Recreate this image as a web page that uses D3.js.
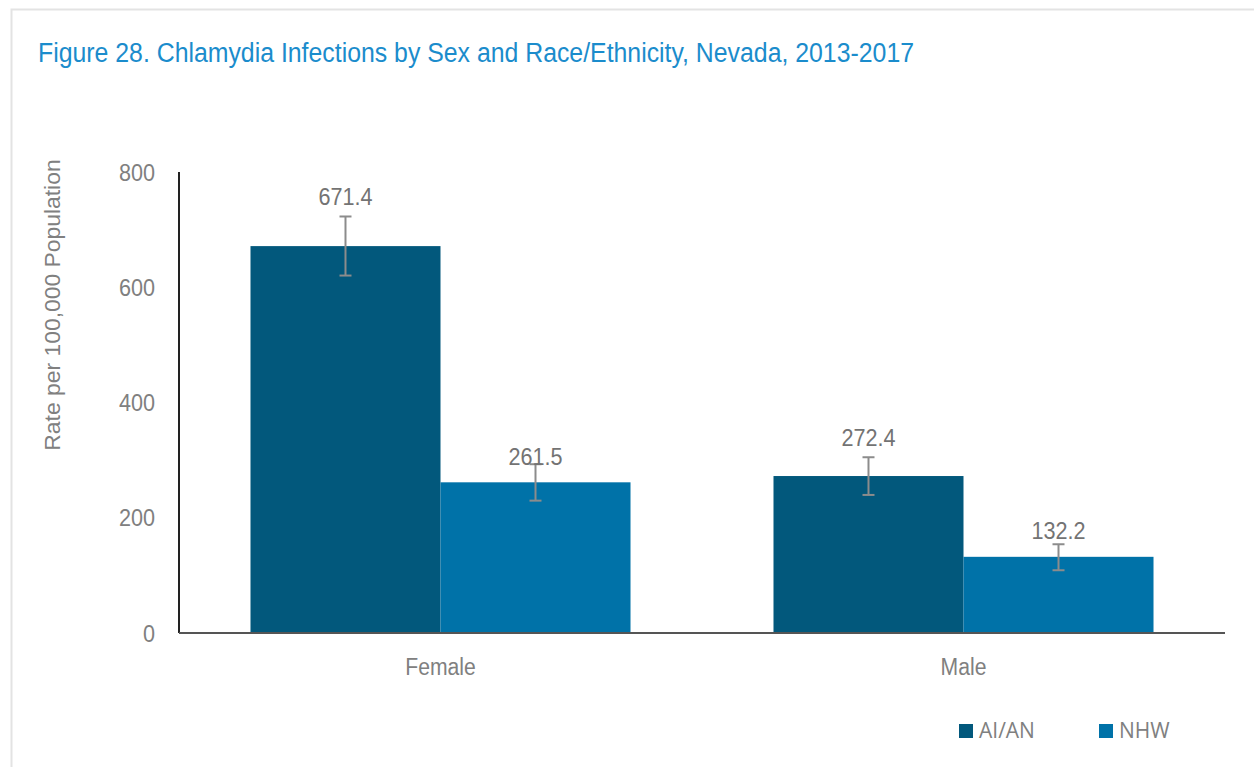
<!DOCTYPE html>
<html>
<head>
<meta charset="utf-8">
<script src="https://cdn.jsdelivr.net/npm/d3@7"></script>
<style>
  body { margin: 0; background: #fff; }
  svg { display: block; }
</style>
</head>
<body>
<svg id="chart" width="1254" height="767"></svg>
<script>
// chart data
const sexes = ['Female', 'Male']
const groups = ['AI/AN', 'NHW']
const rateAIAN = [671.4, 272.4]
const rateNHW = [261.5, 132.2]
// 95% confidence limits
const lowAIAN = [620.3, 239.6]
const highAIAN = [722.8, 305.0]
const lowNHW = [229.7, 108.9]
const highNHW = [292.9, 154.0]
const yTicks = [0, 200, 400, 600, 800]

const colors = { 'AI/AN': '#02587c', 'NHW': '#0072a8' }
const sans = '"Liberation Sans", Arial, sans-serif'
const grey = '#808080'

const rows = []
sexes.forEach((s, i) => {
  rows.push({ sex: s, group: 'AI/AN', value: rateAIAN[i], lo: lowAIAN[i], hi: highAIAN[i] })
  rows.push({ sex: s, group: 'NHW', value: rateNHW[i], lo: lowNHW[i], hi: highNHW[i] })
})

// no Arial Narrow here, so squeeze the glyphs to get the condensed look
const squeeze = (sel, k) => {
  sel.each(function () {
    const w = this.getComputedTextLength()
    d3.select(this).attr('textLength', w * k).attr('lengthAdjust', 'spacingAndGlyphs')
  })
}

const svg = d3.select('#chart')

// light frame around the figure
svg.append('rect')
  .attr('x', 11.5).attr('y', 9.5)
  .attr('width', 1260).attr('height', 780)
  .attr('fill', 'none')
  .attr('stroke', '#e3e3e3')
  .attr('stroke-width', 2)

// title
svg.append('text')
  .attr('x', 38).attr('y', 62)
  .attr('fill', '#1b8ccc')
  .attr('font-family', sans)
  .attr('font-size', 27)
  .attr('textLength', 876)
  .attr('lengthAdjust', 'spacingAndGlyphs')
  .text('Figure 28. Chlamydia Infections by Sex and Race/Ethnicity, Nevada, 2013-2017')

const plot = { left: 179, right: 1225, top: 172, bottom: 633 }

const x = d3.scaleBand()
  .domain(sexes)
  .range([plot.left, plot.right])
  .paddingInner(0.2734)
  .paddingOuter(0.1367)

const xs = d3.scaleBand()
  .domain(groups)
  .range([0, x.bandwidth()])

const y = d3.scaleLinear()
  .domain([0, 800])
  .range([plot.bottom, plot.top])

// y tick labels
svg.append('g')
  .selectAll('text')
  .data(yTicks)
  .join('text')
  .attr('x', 155)
  .attr('y', d => y(d))
  .attr('dy', '0.36em')
  .attr('text-anchor', 'end')
  .attr('fill', grey)
  .attr('font-family', sans)
  .attr('font-size', 24)
  .text(d => d)
  .call(squeeze, 0.9)

// axis title
svg.append('text')
  .attr('transform', 'translate(60,305) rotate(-90)')
  .attr('text-anchor', 'middle')
  .attr('fill', grey)
  .attr('font-family', sans)
  .attr('font-size', 22)
  .text('Rate per 100,000 Population')
  .call(squeeze, 1.04)

// bars
svg.append('g')
  .selectAll('rect')
  .data(rows)
  .join('rect')
  .attr('x', d => x(d.sex) + xs(d.group))
  .attr('y', d => y(d.value))
  .attr('width', xs.bandwidth())
  .attr('height', d => y(0) - y(d.value))
  .attr('fill', d => colors[d.group])

// error bars
const err = svg.append('g')
  .attr('stroke', '#8c8c8c')
  .attr('stroke-width', 2)
rows.forEach(d => {
  const cx = x(d.sex) + xs(d.group) + xs.bandwidth() / 2
  err.append('line').attr('x1', cx).attr('x2', cx).attr('y1', y(d.hi)).attr('y2', y(d.lo))
  err.append('line').attr('x1', cx - 6).attr('x2', cx + 6).attr('y1', y(d.hi)).attr('y2', y(d.hi))
  err.append('line').attr('x1', cx - 6).attr('x2', cx + 6).attr('y1', y(d.lo)).attr('y2', y(d.lo))
})

// value labels (Excel had them nudged by hand)
const nudge = { 'Female AI/AN': 41, 'Female NHW': 17, 'Male AI/AN': 30, 'Male NHW': 18 }
svg.append('g')
  .selectAll('text')
  .data(rows)
  .join('text')
  .attr('x', d => x(d.sex) + xs(d.group) + xs.bandwidth() / 2)
  .attr('y', d => y(d.value) - nudge[d.sex + ' ' + d.group])
  .attr('text-anchor', 'middle')
  .attr('fill', '#737373')
  .attr('font-family', sans)
  .attr('font-size', 24)
  .text(d => d.value.toFixed(1))
  .call(squeeze, 0.9)

// axes lines
svg.append('line')
  .attr('x1', plot.left).attr('x2', plot.left)
  .attr('y1', plot.top).attr('y2', plot.bottom)
  .attr('stroke', '#222').attr('stroke-width', 2)
svg.append('line')
  .attr('x1', plot.left).attr('x2', plot.right)
  .attr('y1', plot.bottom).attr('y2', plot.bottom)
  .attr('stroke', '#555').attr('stroke-width', 2)

// category labels
svg.append('g')
  .selectAll('text')
  .data(sexes)
  .join('text')
  .attr('x', d => x(d) + x.bandwidth() / 2)
  .attr('y', 675)
  .attr('text-anchor', 'middle')
  .attr('fill', grey)
  .attr('font-family', sans)
  .attr('font-size', 23)
  .text(d => d)
  .call(squeeze, 0.92)

// legend
const legend = svg.append('g')
  .selectAll('g')
  .data(groups)
  .join('g')
  .attr('transform', (d, i) => 'translate(' + (959 + i * 140) + ',724)')
legend.append('rect')
  .attr('width', 14).attr('height', 14)
  .attr('fill', d => colors[d])
legend.append('text')
  .attr('x', 20).attr('y', 14)
  .attr('fill', grey)
  .attr('font-family', '"Open Sans", sans-serif')
  .attr('font-size', 21)
  .text(d => d)
</script>
</body>
</html>
